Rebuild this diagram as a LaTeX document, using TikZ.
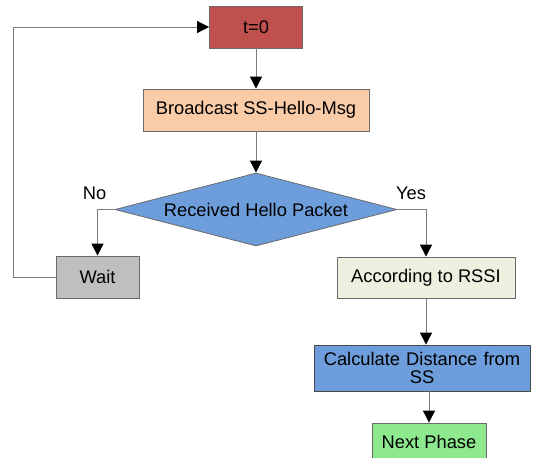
\documentclass[tikz,border=0pt]{standalone}
\usepackage{fontspec}
\setmainfont{Liberation Sans}
\usetikzlibrary{arrows.meta,shapes.geometric}
\definecolor{cRed}{HTML}{C0504D}
\definecolor{cPeach}{HTML}{FACBA7}
\definecolor{cBlue}{HTML}{6D9EDB}
\definecolor{cGray}{HTML}{BFBFBF}
\definecolor{cPale}{HTML}{EBF1DE}
\definecolor{cGreen}{HTML}{8EE88E}
\definecolor{cEdge}{HTML}{6A6A6A}
\definecolor{cLine}{HTML}{7A7A7A}
\tikzset{
  box/.style={draw=cEdge, line width=0.8pt, inner sep=0pt, font=\fontsize{18.3}{20.5}\selectfont, text=black},
  conn/.style={draw=cLine, line width=0.8pt, -{Triangle[width=12pt,length=12pt,fill=black,color=black]}},
  lbl/.style={font=\fontsize{18.3}{20.5}\selectfont, inner sep=0pt}
}
\begin{document}
\begin{tikzpicture}[x=1pt,y=-1pt]
\clip (0,0) rectangle (533,458);
\useasboundingbox (0,0) rectangle (533,458);
\node[box, fill=cRed, minimum width=93pt, minimum height=42pt] (t0) at (256,27) {t=0};
\node[box, fill=cPeach, minimum width=226pt, minimum height=42pt] (bc) at (256,110) {Broadcast SS-Hello-Msg};
\node[box, diamond, fill=cBlue, shape aspect=3.86, minimum width=282pt, minimum height=73pt] (dia) at (256,209.5) {Received Hello Packet};
\node[box, fill=cGray, minimum width=83pt, minimum height=42pt] (wait) at (97.5,277) {Wait};
\node[box, fill=cPale, minimum width=178pt, minimum height=41pt] (acc) at (426,277.5) {According to RSSI};
\node[box, fill=cBlue, draw=cEdge!70!black, minimum width=216pt, minimum height=46pt, text width=212pt, align=center] (calc) at (422,368) {Calculate Distance from\\[-2pt]SS};
\node[box, fill=cGreen, minimum width=114pt, minimum height=38pt] (np) at (429,442) {Next Phase};
\node[lbl] (no) at (94.5,193) {No};
\node[lbl] (yes) at (411,193) {Yes};
\draw[conn] (t0) -- (bc);
\draw[conn] (bc) -- (dia);
\draw[conn] (dia.west) -| (wait.north);
\draw[conn] (dia.east) -| (acc.north);
\draw[conn] (acc.south) -- (acc.south |- calc.north);
\draw[conn] (np.north |- calc.south) -- (np.north);
\draw[conn] (wait.west) -- ++(-42,0) |- (t0.west);
\end{tikzpicture}
\end{document}
